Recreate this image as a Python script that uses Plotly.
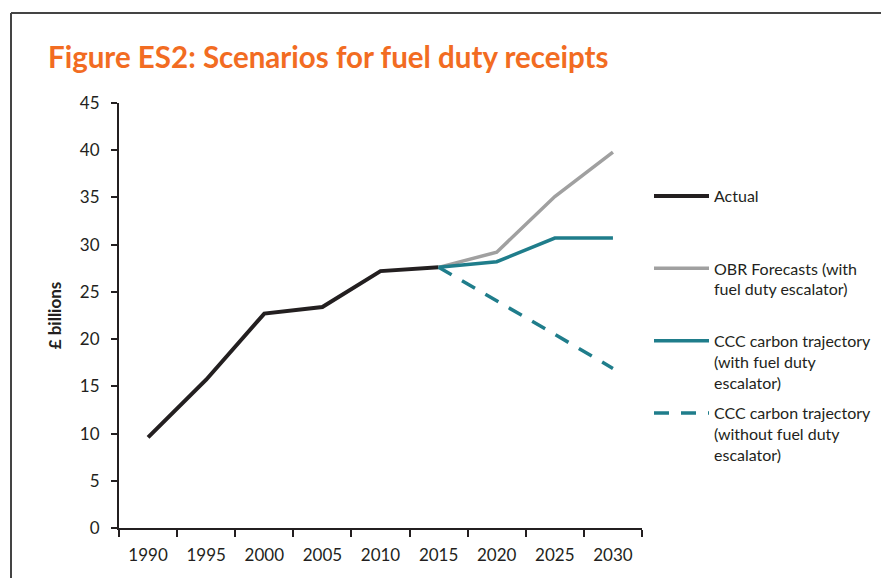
import plotly.graph_objects as go

years = ["1990", "1995", "2000", "2005", "2010", "2015", "2020", "2025", "2030"]
actual = [9.6, 15.7, 22.7, 23.4, 27.2, 27.6, None, None, None]
obr = [None, None, None, None, None, 27.6, 29.2, 35.1, 39.8]
ccc_with = [None, None, None, None, None, 27.6, 28.2, 30.7, 30.7]
ccc_without = [None, None, None, None, None, 27.6, 24.1, 20.5, 16.9]

names = [
    "Actual<br> <br> ",
    "OBR Forecasts (with<br>fuel duty escalator)<br> ",
    "CCC carbon trajectory<br>(with fuel duty<br>escalator)",
    "CCC carbon trajectory<br>(without fuel duty<br>escalator)",
]

FONT = "Lato"
TXT = "#231F20"
TEAL = "#1F7D8B"

# figure is offset by 8px page margin -> work in figure coords
W, H = 881, 570
L, R, T, B = 111, 634, 95, 520  # plot area in figure px
PW, PH = R - L, B - T


def px(x):
    return (x - L) / PW


def py(y):
    return (B - y) / PH


fig = go.Figure()
fig.add_trace(go.Scatter(x=years, y=actual, mode="lines", name=names[0], legendgroup="a",
                         line=dict(color="#231F20", width=4)))
fig.add_trace(go.Scatter(x=years, y=obr, mode="lines", name=names[1], legendgroup="b",
                         line=dict(color="#A0A0A0", width=3.5)))
fig.add_trace(go.Scatter(x=years, y=ccc_with, mode="lines", name=names[2], legendgroup="c",
                         line=dict(color=TEAL, width=3.5)))
fig.add_trace(go.Scatter(x=years, y=ccc_without, mode="lines", name=names[3], legendgroup="d",
                         line=dict(color=TEAL, width=3.5, dash="15px,12px")))

fig.update_layout(
    width=W, height=H,
    margin=dict(l=L, r=W - R, t=T, b=H - B),
    paper_bgcolor="white", plot_bgcolor="white",
    font=dict(family=FONT, size=17, color=TXT),
    showlegend=True,
    legend=dict(x=px(641), y=py(171), xanchor="left", yanchor="top",
                font=dict(family=FONT, size=16, color=TXT),
                valign="top", tracegroupgap=7, itemwidth=55,
                bgcolor="rgba(0,0,0,0)"),
    annotations=[
        dict(text="<b>Figure ES2: Scenarios for fuel duty receipts</b>",
             xref="paper", yref="paper", x=px(38), y=py(48),
             xanchor="left", yanchor="middle", showarrow=False,
             font=dict(family=FONT, size=29.5, color="#F26C22")),
    ],
    shapes=[
        dict(type="line", xref="paper", yref="paper",
             x0=px(3), x1=px(900), y0=py(5), y1=py(5),
             line=dict(color="#444444", width=2)),
        dict(type="line", xref="paper", yref="paper",
             x0=px(3), x1=px(3), y0=py(5), y1=py(600),
             line=dict(color="#444444", width=2)),
    ],
)

fig.update_xaxes(type="category", range=[-0.5, 8.5], tickson="boundaries",
                 showline=True, linecolor=TXT, linewidth=2,
                 ticks="outside", ticklen=7, tickwidth=1.5, tickcolor=TXT,
                 showgrid=False, zeroline=False, ticklabelstandoff=11,
                 tickfont=dict(family=FONT, size=17, color=TXT))
fig.update_yaxes(range=[0, 45], tickvals=list(range(0, 50, 5)),
                 showline=True, linecolor=TXT, linewidth=2,
                 ticks="outside", ticklen=6, tickwidth=1.5, tickcolor=TXT,
                 showgrid=False, zeroline=False, ticklabelstandoff=8,
                 tickfont=dict(family=FONT, size=17, color=TXT),
                 title=dict(text="<b>£ billions</b>", standoff=14,
                            font=dict(family=FONT, size=17, color=TXT)))

fig.write_html("out.html")
